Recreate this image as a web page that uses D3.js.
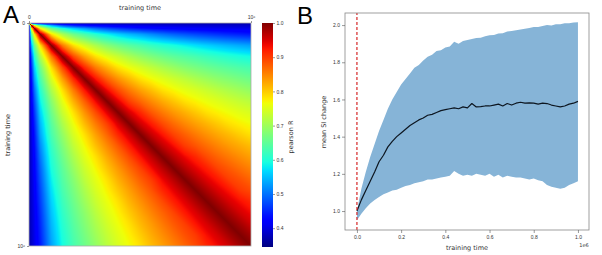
<!DOCTYPE html>
<html>
<head>
<meta charset="utf-8">
<title>pearson R / mean SI change</title>
<style>
  body { margin: 0; background: #fff; }
  svg { display: block; font-family: "DejaVu Sans", sans-serif; }
  .tick text { fill: #333; }
  .tick line { stroke: #555; stroke-width: 0.6; }
</style>
</head>
<body>
<div id="chart"></div>
<script src="https://d3js.org/d3.v7.min.js"></script>
<script>

// ---- panel A: pearson R between training times (units of 1e6), lower triangle
const timeGrid = [0, 0.01, 0.025, 0.05, 0.1, 0.15, 0.2, 0.25, 0.3, 0.35, 0.4, 0.45, 0.5,
                  0.55, 0.6, 0.65, 0.7, 0.75, 0.8, 0.85, 0.9, 0.95, 1.0];
const pearsonLower = [
  [1.0],
  [0.37, 1.0],
  [0.37, 0.745, 1.0],
  [0.37, 0.63, 0.785, 1.0],
  [0.37, 0.53, 0.66, 0.785, 1.0],
  [0.37, 0.47, 0.603, 0.71, 0.857, 1.0],
  [0.37, 0.44, 0.56, 0.66, 0.785, 0.89, 1.0],
  [0.37, 0.426, 0.53, 0.63, 0.745, 0.83, 0.915, 1.0],
  [0.37, 0.417, 0.50, 0.603, 0.71, 0.785, 0.857, 0.928, 1.0],
  [0.37, 0.41, 0.479, 0.581, 0.681, 0.756, 0.819, 0.876, 0.938, 1.0],
  [0.37, 0.405, 0.463, 0.56, 0.66, 0.733, 0.785, 0.84, 0.89, 0.945, 1.0],
  [0.37, 0.401, 0.45, 0.543, 0.643, 0.71, 0.763, 0.812, 0.857, 0.898, 0.951, 1.0],
  [0.37, 0.398, 0.44, 0.53, 0.63, 0.69, 0.745, 0.785, 0.83, 0.87, 0.915, 0.955, 1.0],
  [0.37, 0.395, 0.433, 0.514, 0.615, 0.674, 0.727, 0.767, 0.808, 0.845, 0.881, 0.922, 0.96, 1.0],
  [0.37, 0.393, 0.428, 0.50, 0.603, 0.66, 0.71, 0.752, 0.785, 0.823, 0.857, 0.89, 0.928, 0.963, 1.0],
  [0.37, 0.392, 0.424, 0.488, 0.593, 0.648, 0.695, 0.737, 0.77, 0.804, 0.836, 0.867, 0.896, 0.933, 0.967, 1.0],
  [0.37, 0.39, 0.42, 0.479, 0.581, 0.639, 0.681, 0.724, 0.756, 0.785, 0.819, 0.847, 0.876, 0.901, 0.938, 0.969, 1.0],
  [0.37, 0.389, 0.417, 0.47, 0.57, 0.63, 0.67, 0.71, 0.745, 0.772, 0.802, 0.83, 0.857, 0.883, 0.915, 0.942, 0.972, 1.0],
  [0.37, 0.388, 0.414, 0.463, 0.56, 0.62, 0.66, 0.698, 0.733, 0.76, 0.785, 0.815, 0.84, 0.865, 0.89, 0.92, 0.945, 0.974, 1.0],
  [0.37, 0.387, 0.411, 0.456, 0.551, 0.611, 0.651, 0.686, 0.721, 0.75, 0.773, 0.80, 0.825, 0.849, 0.872, 0.894, 0.924, 0.948, 0.976, 1.0],
  [0.37, 0.386, 0.409, 0.45, 0.543, 0.603, 0.643, 0.677, 0.71, 0.739, 0.763, 0.785, 0.812, 0.834, 0.857, 0.879, 0.898, 0.928, 0.951, 0.977, 1.0],
  [0.37, 0.385, 0.407, 0.445, 0.536, 0.596, 0.636, 0.668, 0.70, 0.729, 0.753, 0.774, 0.798, 0.822, 0.843, 0.864, 0.885, 0.902, 0.932, 0.953, 0.979, 1.0],
  [0.37, 0.384, 0.405, 0.44, 0.53, 0.59, 0.63, 0.66, 0.69, 0.72, 0.745, 0.765, 0.785, 0.81, 0.83, 0.85, 0.87, 0.89, 0.915, 0.935, 0.955, 0.98, 1.0]
];
const colorbarTicks = [0.4, 0.5, 0.6, 0.7, 0.8, 0.9, 1.0];
const colorRange = [0.345, 1.0];

// ---- panel B: mean SI change vs training time (units of 1e6)
const bTime = [0, 0.02, 0.04, 0.06, 0.08, 0.10, 0.12, 0.14, 0.16, 0.18, 0.20,
               0.22, 0.24, 0.26, 0.28, 0.30, 0.32, 0.34, 0.36, 0.38, 0.40,
               0.42, 0.44, 0.46, 0.48, 0.50, 0.52, 0.54, 0.56, 0.58, 0.60,
               0.62, 0.64, 0.66, 0.68, 0.70, 0.72, 0.74, 0.76, 0.78, 0.80,
               0.82, 0.84, 0.86, 0.88, 0.90, 0.92, 0.94, 0.96, 0.98, 1.0];
const bMean = [1.0, 1.06, 1.11, 1.16, 1.21, 1.265, 1.30, 1.345, 1.375, 1.40, 1.42,
               1.44, 1.46, 1.475, 1.49, 1.50, 1.515, 1.52, 1.53, 1.54, 1.545,
               1.55, 1.555, 1.55, 1.56, 1.555, 1.578, 1.56, 1.562, 1.565, 1.565,
               1.57, 1.575, 1.565, 1.578, 1.57, 1.58, 1.585, 1.58, 1.582, 1.58,
               1.575, 1.58, 1.578, 1.57, 1.565, 1.56, 1.565, 1.575, 1.58, 1.59];
const bUpper = [1.0, 1.12, 1.21, 1.29, 1.36, 1.43, 1.49, 1.55, 1.60, 1.64, 1.68,
                1.71, 1.74, 1.77, 1.785, 1.81, 1.83, 1.84, 1.86, 1.865, 1.88,
                1.885, 1.91, 1.9, 1.915, 1.92, 1.925, 1.93, 1.932, 1.94, 1.945,
                1.947, 1.955, 1.956, 1.965, 1.968, 1.972, 1.976, 1.98, 1.984, 1.99,
                1.99, 1.995, 2.0, 1.998, 2.005, 2.004, 2.01, 2.01, 2.014, 2.015];
const bLower = [0.95, 0.985, 1.015, 1.04, 1.06, 1.075, 1.09, 1.10, 1.11, 1.115, 1.125,
                1.135, 1.14, 1.15, 1.155, 1.16, 1.17, 1.17, 1.175, 1.18, 1.185,
                1.19, 1.215, 1.2, 1.19, 1.195, 1.19, 1.2, 1.195, 1.19, 1.2,
                1.185, 1.195, 1.18, 1.19, 1.185, 1.18, 1.18, 1.175, 1.17, 1.175,
                1.165, 1.16, 1.14, 1.13, 1.125, 1.12, 1.125, 1.14, 1.15, 1.16];
const bXTicks = [0, 0.2, 0.4, 0.6, 0.8, 1.0];
const bYTicks = [1.0, 1.2, 1.4, 1.6, 1.8, 2.0];

const width = 602, height = 255;

const svg = d3.select('#chart').append('svg')
  .attr('width', width)
  .attr('height', height);

// matplotlib "jet"
const jetR = d3.scaleLinear().domain([0, 0.35, 0.66, 0.89, 1]).range([0, 0, 1, 1, 0.5]).clamp(true);
const jetG = d3.scaleLinear().domain([0, 0.125, 0.375, 0.64, 0.91, 1]).range([0, 0, 1, 1, 0, 0]).clamp(true);
const jetB = d3.scaleLinear().domain([0, 0.11, 0.34, 0.65, 1]).range([0.5, 1, 1, 0, 0]).clamp(true);
const norm = d3.scaleLinear().domain(colorRange).range([0, 1]).clamp(true);
const jet = v => {
  const t = norm(v);
  return d3.rgb(jetR(t) * 255, jetG(t) * 255, jetB(t) * 255);
};

// ===== panel A =====
const hx = d3.scaleLinear().domain([0, 1]).range([29, 251]);
const hy = d3.scaleLinear().domain([0, 1]).range([23, 246]);

const n = timeGrid.length;
const matrix = timeGrid.map((_, i) => timeGrid.map((_, j) => i >= j ? pearsonLower[i][j] : pearsonLower[j][i]));

// gouraud-style shading of the grid (cells split along the diagonal)
const W = Math.round(hx(1) - hx(0)), H = Math.round(hy(1) - hy(0));
const cnv = document.createElement('canvas');
cnv.width = W; cnv.height = H;
const ctx = cnv.getContext('2d');
const img = ctx.createImageData(W, H);
const cellOf = t => {
  const c = Math.min(Math.max(d3.bisectRight(timeGrid, t) - 1, 0), n - 2);
  return [c, (t - timeGrid[c]) / (timeGrid[c + 1] - timeGrid[c])];
};
for (let py = 0; py < H; py++) {
  const [r, fy] = cellOf(hy.invert(hy(0) + py + 0.5));
  for (let px = 0; px < W; px++) {
    const [c, fx] = cellOf(hx.invert(hx(0) + px + 0.5));
    let v;
    if (fx >= fy) {
      v = matrix[r][c] + fx * (matrix[r][c + 1] - matrix[r][c]) + fy * (matrix[r + 1][c + 1] - matrix[r][c + 1]);
    } else {
      v = matrix[r][c] + fy * (matrix[r + 1][c] - matrix[r][c]) + fx * (matrix[r + 1][c + 1] - matrix[r + 1][c]);
    }
    const col = jet(v), k = (py * W + px) * 4;
    img.data[k] = col.r; img.data[k + 1] = col.g; img.data[k + 2] = col.b; img.data[k + 3] = 255;
  }
}
ctx.putImageData(img, 0, 0);

svg.append('image')
  .attr('href', cnv.toDataURL())
  .attr('preserveAspectRatio', 'none')
  .attr('x', hx(0)).attr('y', hy(0))
  .attr('width', W).attr('height', H);

svg.append('rect')
  .attr('x', hx(0)).attr('y', hy(0))
  .attr('width', W).attr('height', H)
  .attr('fill', 'none').attr('stroke', '#aaa').attr('stroke-width', 0.8);

const fmtTime = d => d === 0 ? '0' : '10\u2076';
const hTop = svg.append('g').attr('transform', `translate(0, ${hy(0)})`)
  .call(d3.axisTop(hx).tickValues([0, 1]).tickFormat(fmtTime).tickSize(2).tickPadding(2));
const hLeft = svg.append('g').attr('transform', `translate(${hx(0)}, 0)`)
  .call(d3.axisLeft(hy).tickValues([0, 1]).tickFormat(fmtTime).tickSize(2).tickPadding(2));
[hTop, hLeft].forEach(g => {
  g.select('.domain').remove();
  g.selectAll('text').style('font-size', '5px');
});

svg.append('text')
  .attr('x', 140).attr('y', 10)
  .attr('text-anchor', 'middle')
  .style('font-size', '6.5px').attr('fill', '#333')
  .text('training time');

svg.append('text')
  .attr('transform', 'translate(10, 135) rotate(-90)')
  .attr('text-anchor', 'middle')
  .style('font-size', '6.5px').attr('fill', '#333')
  .text('training time');

// colour bar
const cb = d3.scaleLinear().domain(colorRange).range([247, 23]);
const grad = svg.append('defs').append('linearGradient')
  .attr('id', 'jetgrad')
  .attr('x1', 0).attr('y1', 1).attr('x2', 0).attr('y2', 0);
d3.range(0, 1.0001, 0.02).forEach(t => {
  grad.append('stop')
    .attr('offset', t)
    .attr('stop-color', jet(colorRange[0] + t * (colorRange[1] - colorRange[0])));
});
svg.append('rect')
  .attr('x', 262).attr('y', cb(colorRange[1]))
  .attr('width', 11).attr('height', cb(colorRange[0]) - cb(colorRange[1]))
  .attr('fill', 'url(#jetgrad)');

const cbAxis = svg.append('g').attr('transform', 'translate(273, 0)')
  .call(d3.axisRight(cb).tickValues(colorbarTicks).tickFormat(d3.format('.1f')).tickSize(2).tickPadding(1.5));
cbAxis.select('.domain').remove();
cbAxis.selectAll('text').style('font-size', '5px');

svg.append('text')
  .attr('transform', 'translate(293, 137) rotate(-90)')
  .attr('text-anchor', 'middle')
  .style('font-size', '6.5px').attr('fill', '#333')
  .text('pearson R');

svg.append('text')
  .attr('x', 3).attr('y', 23)
  .style('font-family', '"Liberation Sans", Arial, sans-serif')
  .style('font-size', '24px').attr('fill', '#000')
  .text('A');

// ===== panel B =====
const bx = d3.scaleLinear().domain([-0.054, 1.05]).range([345, 589]);
const by = d3.scaleLinear().domain([0.898, 2.065]).range([230, 13]);
const bData = bTime.map((t, i) => ({t: t, mean: bMean[i], lo: bLower[i], hi: bUpper[i]}));

svg.append('path')
  .datum(bData)
  .attr('fill', '#86b4d7')
  .attr('d', d3.area().x(d => bx(d.t)).y0(d => by(d.lo)).y1(d => by(d.hi)));

svg.append('path')
  .datum(bData)
  .attr('fill', 'none')
  .attr('stroke', '#0d1620')
  .attr('stroke-width', 1.2)
  .attr('stroke-linejoin', 'round')
  .attr('d', d3.line().x(d => bx(d.t)).y(d => by(d.mean)));

svg.append('line')
  .attr('x1', bx(0)).attr('x2', bx(0))
  .attr('y1', by.range()[0]).attr('y2', by.range()[1])
  .attr('stroke', '#d62728').attr('stroke-width', 1.2)
  .attr('stroke-dasharray', '3,2');

svg.append('rect')
  .attr('x', 345).attr('y', 13)
  .attr('width', 589 - 345).attr('height', 230 - 13)
  .attr('fill', 'none').attr('stroke', '#888').attr('stroke-width', 0.8);

const bXAxis = svg.append('g').attr('transform', 'translate(0, 230)')
  .call(d3.axisBottom(bx).tickValues(bXTicks).tickFormat(d3.format('.1f')).tickSize(3).tickPadding(2));
const bYAxis = svg.append('g').attr('transform', 'translate(345, 0)')
  .call(d3.axisLeft(by).tickValues(bYTicks).tickFormat(d3.format('.1f')).tickSize(3).tickPadding(2));
[bXAxis, bYAxis].forEach(g => {
  g.select('.domain').remove();
  g.selectAll('text').style('font-size', '5px');
});

svg.append('text')
  .attr('x', 584).attr('y', 247)
  .attr('text-anchor', 'middle')
  .style('font-size', '5px').attr('fill', '#333')
  .text('1e6');

svg.append('text')
  .attr('x', 467).attr('y', 250)
  .attr('text-anchor', 'middle')
  .style('font-size', '6.5px').attr('fill', '#333')
  .text('training time');

svg.append('text')
  .attr('transform', 'translate(326, 122) rotate(-90)')
  .attr('text-anchor', 'middle')
  .style('font-size', '6.5px').attr('fill', '#333')
  .text('mean SI change');

svg.append('text')
  .attr('x', 297).attr('y', 24)
  .style('font-family', '"Liberation Sans", Arial, sans-serif')
  .style('font-size', '24px').attr('fill', '#000')
  .text('B');

</script>
</body>
</html>
